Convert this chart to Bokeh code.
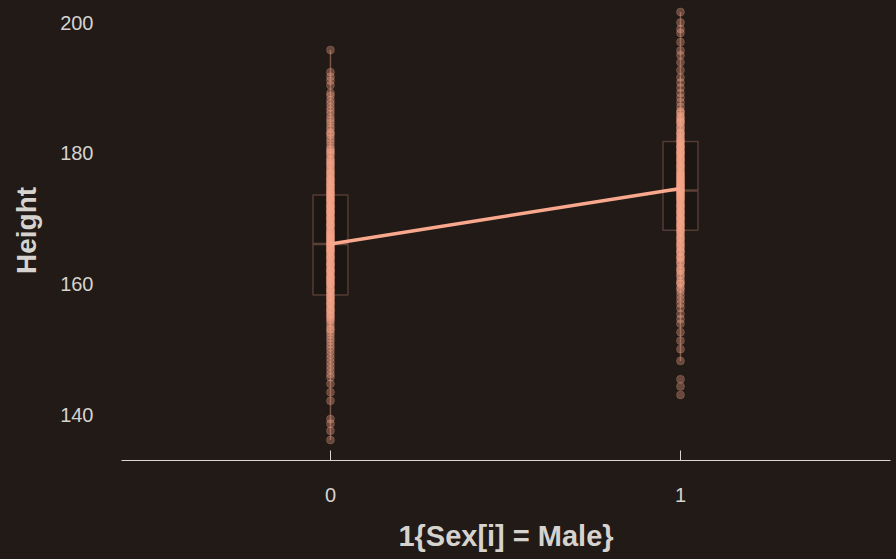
from bokeh.plotting import figure
from bokeh.models import Range1d, FixedTicker
from bokeh.embed import file_html
from bokeh.resources import INLINE

# ---- data ----
groups = [0, 1]
tick_labels = {0: "0", 1: "1"}

height_female = [
    195.8, 192.4, 191.7, 191.1, 190.4, 189.2, 188.8, 188.1, 187.6, 187.0,
    186.5, 186.0, 185.4, 185.0, 184.6, 184.1, 183.7, 183.2, 182.8, 182.3,
    181.9, 181.5, 181.0, 180.6, 180.2, 179.8, 179.5, 179.1, 178.8, 178.4,
    178.0, 177.7, 177.3, 177.0, 176.6, 176.3, 175.9, 175.6, 175.2, 175.0,
    174.7, 174.4, 174.1, 173.8, 173.5, 173.2, 172.9, 172.6, 172.3, 172.0,
    171.7, 171.4, 171.1, 170.8, 170.5, 170.2, 170.0, 169.7, 169.4, 169.1,
    168.8, 168.5, 168.2, 167.9, 167.6, 167.3, 167.0, 166.7, 166.4, 166.1,
    165.8, 165.5, 165.2, 165.0, 164.7, 164.4, 164.1, 163.8, 163.5, 163.2,
    162.9, 162.6, 162.3, 162.0, 161.7, 161.4, 161.1, 160.8, 160.5, 160.2,
    160.0, 159.7, 159.3, 159.0, 158.6, 158.3, 157.9, 157.6, 157.2, 156.9,
    156.5, 156.2, 155.8, 155.5, 155.1, 154.7, 154.3, 153.9, 153.5, 153.1,
    152.6, 152.2, 151.7, 151.3, 150.8, 150.3, 149.8, 149.2, 148.6, 148.0,
    147.4, 146.8, 146.2, 145.7, 144.7, 143.4, 142.1, 139.3, 138.6, 137.5,
    136.1,
    183.0, 180.0, 178.5, 177.0, 176.0, 175.0, 174.0, 173.0, 172.0, 171.0,
    170.0, 169.0, 168.0, 167.5, 167.0, 166.5, 166.0, 165.5, 165.0, 164.0,
    163.0, 162.0, 161.0, 160.0, 159.0, 158.0, 157.0, 156.0, 155.0, 153.0,
    180.5, 179.0, 178.2, 177.5, 176.8, 176.2, 175.7, 175.3, 174.6, 174.2,
    173.7, 173.3, 172.8, 172.5, 171.9, 171.6, 171.2, 170.9, 170.4, 169.8,
    169.3, 168.9, 168.3, 167.7, 167.2, 166.8, 166.3, 165.9, 165.3, 164.8,
    164.3, 163.9, 163.3, 162.8, 162.2, 161.8, 161.2, 160.7, 160.3, 159.6,
    159.1, 158.5, 157.8, 157.3, 156.7, 156.0, 155.3, 154.5,
]

height_male = [
    201.6, 200.0, 199.0, 198.4, 197.0, 195.7, 195.0, 193.9, 192.7, 191.6,
    190.8, 190.0, 189.2, 188.5, 187.8, 187.1, 186.5, 186.1, 185.7, 185.3,
    184.9, 184.5, 184.1, 183.7, 183.3, 182.9, 182.5, 182.1, 181.8, 181.5,
    181.2, 180.9, 180.6, 180.3, 180.0, 179.7, 179.4, 179.1, 178.8, 178.5,
    178.2, 177.9, 177.6, 177.3, 177.0, 176.7, 176.4, 176.1, 175.8, 175.5,
    175.2, 175.0, 174.7, 174.4, 174.1, 173.8, 173.5, 173.2, 172.9, 172.6,
    172.3, 172.0, 171.7, 171.4, 171.1, 170.8, 170.5, 170.2, 170.0, 169.7,
    169.4, 169.1, 168.8, 168.5, 168.2, 167.8, 167.4, 167.0, 166.6, 166.2,
    165.8, 165.4, 165.0, 164.6, 164.2, 163.8, 163.4, 163.0, 162.5, 162.0,
    161.5, 161.0, 160.5, 160.0, 159.4, 158.8, 158.2, 157.6, 157.0, 156.3,
    155.4, 154.6, 153.9, 152.6, 151.3, 150.0, 148.2, 145.4, 144.3, 143.0,
    185.0, 183.0, 182.0, 181.0, 180.0, 179.0, 178.0, 177.0, 176.5, 176.0,
    175.5, 175.0, 174.5, 174.0, 173.5, 173.0, 172.0, 171.0, 170.0, 169.0,
    168.0, 167.0, 166.0, 165.0, 164.0, 162.0, 160.0,
    186.3, 185.5, 184.7, 183.9, 183.1, 182.4, 181.7, 181.0, 180.4, 179.9,
    179.3, 178.7, 178.1, 177.5, 176.9, 176.3, 175.7, 175.1, 174.6, 174.2,
    173.7, 173.1, 172.5, 171.9, 171.3, 170.7, 170.1, 169.5, 168.9, 168.3,
    167.6, 166.9, 166.3, 165.6, 164.9, 164.1, 163.3, 162.3, 161.3, 160.3,
    159.2,
]

# box-plot summaries: lower whisker, Q1, median, Q3, upper whisker
box_lo = [136.1, 148.2]
box_q1 = [158.3, 168.2]
box_med = [166.1, 174.3]
box_q3 = [173.6, 181.8]
box_hi = [195.8, 201.6]

# fitted regression values at x = 0 and x = 1
fit_height = [166.1, 174.6]

# ---- style ----
BG = "#211a16"
TXT = "#d6d3cf"
SALMON = "#f9a88d"
BOXLINE = "#5a4037"
FONT = "Liberation Sans"

p = figure(width=896, height=559, output_backend="svg", toolbar_location=None,
           x_range=Range1d(-0.597, 1.6), y_range=Range1d(132.96, 203.37),
           min_border_left=121, min_border_right=6, min_border_top=0,
           min_border_bottom=99, outline_line_color=None,
           background_fill_color=BG, border_fill_color=BG)
p.styles = {"background-color": BG}
p.grid.grid_line_color = None

bw = 0.05
p.quad(left=[g - bw for g in groups], right=[g + bw for g in groups],
       bottom=box_q1, top=box_q3, fill_color="#000000", fill_alpha=0.15,
       line_color=BOXLINE, line_width=1.5, line_alpha=0.9)
p.segment(x0=[g - bw for g in groups], x1=[g + bw for g in groups],
          y0=box_med, y1=box_med, line_color=BOXLINE, line_width=2.5)
p.segment(x0=groups, x1=groups, y0=box_lo, y1=box_hi,
          line_color="#7a5548", line_width=1.5)

p.scatter([0] * len(height_female), height_female, size=8,
          fill_color=SALMON, fill_alpha=0.33, line_color=SALMON, line_alpha=0.2)
p.scatter([1] * len(height_male), height_male, size=8,
          fill_color=SALMON, fill_alpha=0.33, line_color=SALMON, line_alpha=0.2)

p.line(groups, fit_height, line_color=SALMON, line_width=3.5)

# axes
xa = p.xaxis[0]
xa.ticker = FixedTicker(ticks=groups)
xa.major_label_overrides = tick_labels
xa.axis_label = "1{Sex[i] = Male}"
xa.axis_line_color = "#d9d6d2"
xa.axis_line_width = 1.2
xa.major_tick_line_color = "#d9d6d2"
xa.major_tick_in = 10
xa.major_tick_out = 0
xa.minor_tick_line_color = None
xa.major_label_text_font = FONT
xa.major_label_text_font_size = "20px"
xa.major_label_text_color = TXT
xa.major_label_standoff = 27
xa.axis_label_text_font = FONT
xa.axis_label_text_font_size = "29px"
xa.axis_label_text_font_style = "bold"
xa.axis_label_text_color = TXT
xa.axis_label_standoff = 15

ya = p.yaxis[0]
ya.ticker = FixedTicker(ticks=[140, 160, 180, 200])
ya.axis_label = "Height"
ya.axis_line_color = None
ya.major_tick_line_color = None
ya.minor_tick_line_color = None
ya.major_label_text_font = FONT
ya.major_label_text_font_size = "20px"
ya.major_label_text_color = TXT
ya.major_label_standoff = 22
ya.axis_label_text_font = FONT
ya.axis_label_text_font_size = "28px"
ya.axis_label_text_font_style = "bold"
ya.axis_label_text_color = TXT
ya.axis_label_standoff = 15

open("out.html", "w").write(file_html(p, INLINE))
